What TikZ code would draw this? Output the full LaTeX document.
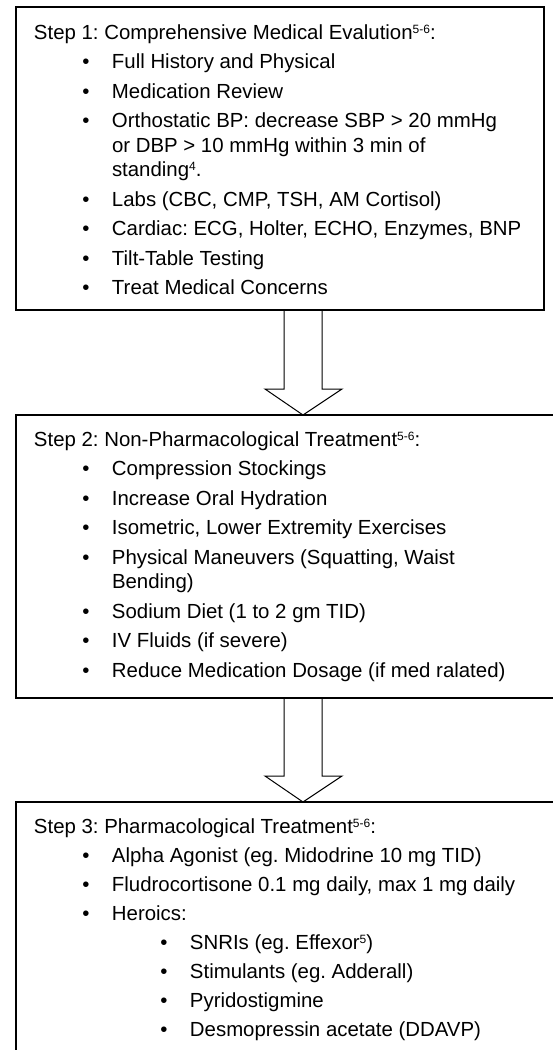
\documentclass[tikz,border=0pt]{standalone}
\usepackage{fontspec}
\setmainfont{Liberation Sans}
\usetikzlibrary{calc}

\newcommand{\bl}{\llap{\textbullet\hspace{22.5pt}}}
\newcommand{\refs}[1]{\raisebox{6pt}{\fontsize{12}{12}\selectfont #1}}

\begin{document}
\frenchspacing
\begin{tikzpicture}[
    x=1pt, y=-1pt,
    every node/.style={inner sep=0pt, outer sep=0pt},
    txt/.style={anchor=base west, align=left, font=\fontsize{20.4}{24.5}\selectfont},
    stepbox/.style={draw, line width=1.5pt, anchor=north west},
    blockarrow/.style={draw, line width=1pt, line join=miter},
]
\useasboundingbox (0,0) rectangle (553,1050);
\clip (0,0) rectangle (553,1050);

% boxes (2 and 3 run off the page)
\node[stepbox, minimum width=528pt, minimum height=303pt] (box1) at (16,7) {};
\node[stepbox, minimum width=560pt, minimum height=283pt] (box2) at (16,415) {};
\node[stepbox, minimum width=560pt, minimum height=300pt] (box3) at (16,802) {};

% step 1 (multi-line nodes sit on their last baseline)
\node[txt] (t1) at (34,39) {Step 1: Comprehensive Medical Evalution\refs{5-6}:};
\node[txt] (t1a) at (112,68.5) {\bl Full History and Physical};
\node[txt] (t1b) at (112,98) {\bl Medication Review};
\node[txt] (t1c) at (112,176.5) {\bl Orthostatic BP: decrease SBP > 20 mmHg\\or DBP > 10 mmHg within 3 min of\\standing\refs{4}.};
\node[txt] (t1d) at (112,206) {\bl Labs (CBC, CMP, TSH, AM Cortisol)};
\node[txt] (t1e) at (112,235.5) {\bl Cardiac: ECG, Holter, ECHO, Enzymes, BNP};
\node[txt] (t1f) at (112,265) {\bl Tilt-Table Testing};
\node[txt] (t1g) at (112,294.5) {\bl Treat Medical Concerns};

% step 2
\node[txt] (t2) at (34,446) {Step 2: Non-Pharmacological Treatment\refs{5-6}:};
\node[txt] (t2a) at (112,475.5) {\bl Compression Stockings};
\node[txt] (t2b) at (112,505) {\bl Increase Oral Hydration};
\node[txt] (t2c) at (112,534.5) {\bl Isometric, Lower Extremity Exercises};
\node[txt] (t2d) at (112,588.5) {\bl Physical Maneuvers (Squatting, Waist\\Bending)};
\node[txt] (t2e) at (112,618) {\bl Sodium Diet (1 to 2 gm TID)};
\node[txt] (t2f) at (112,647.5) {\bl IV Fluids (if severe)};
\node[txt] (t2g) at (112,677) {\bl Reduce Medication Dosage (if med ralated)};

% step 3
\node[txt] (t3) at (34,833) {Step 3: Pharmacological Treatment\refs{5-6}:};
\node[txt] (t3a) at (112,862) {\bl Alpha Agonist (eg. Midodrine 10 mg TID)};
\node[txt] (t3b) at (112,891) {\bl Fludrocortisone 0.1 mg daily, max 1 mg daily};
\node[txt] (t3c) at (112,920) {\bl Heroics:};
\node[txt] (t3c1) at (190,949) {\bl SNRIs (eg. Effexor\refs{5})};
\node[txt] (t3c2) at (190,978) {\bl Stimulants (eg. Adderall)};
\node[txt] (t3c3) at (190,1007) {\bl Pyridostigmine};
\node[txt] (t3c4) at (190,1036) {\bl Desmopressin acetate (DDAVP)};

% block arrows between the boxes
\path (box1.south) ++(23,0) coordinate (a1top);
\coordinate (a1tip) at (a1top |- box2.north);
\path (box2.south) ++(7,0) coordinate (a2top);
\coordinate (a2tip) at (a2top |- box3.north);

\draw[blockarrow] ($(a1top)+(-19,0)$) -- ($(a1tip)+(-19,-26)$) -- ($(a1tip)+(-38,-26)$) -- (a1tip)
    -- ($(a1tip)+(39,-26)$) -- ($(a1tip)+(19,-26)$) -- ($(a1top)+(19,0)$);
\draw[blockarrow] ($(a2top)+(-19,0)$) -- ($(a2tip)+(-19,-26)$) -- ($(a2tip)+(-38,-26)$) -- (a2tip)
    -- ($(a2tip)+(39,-26)$) -- ($(a2tip)+(19,-26)$) -- ($(a2top)+(19,0)$);

\end{tikzpicture}
\end{document}
